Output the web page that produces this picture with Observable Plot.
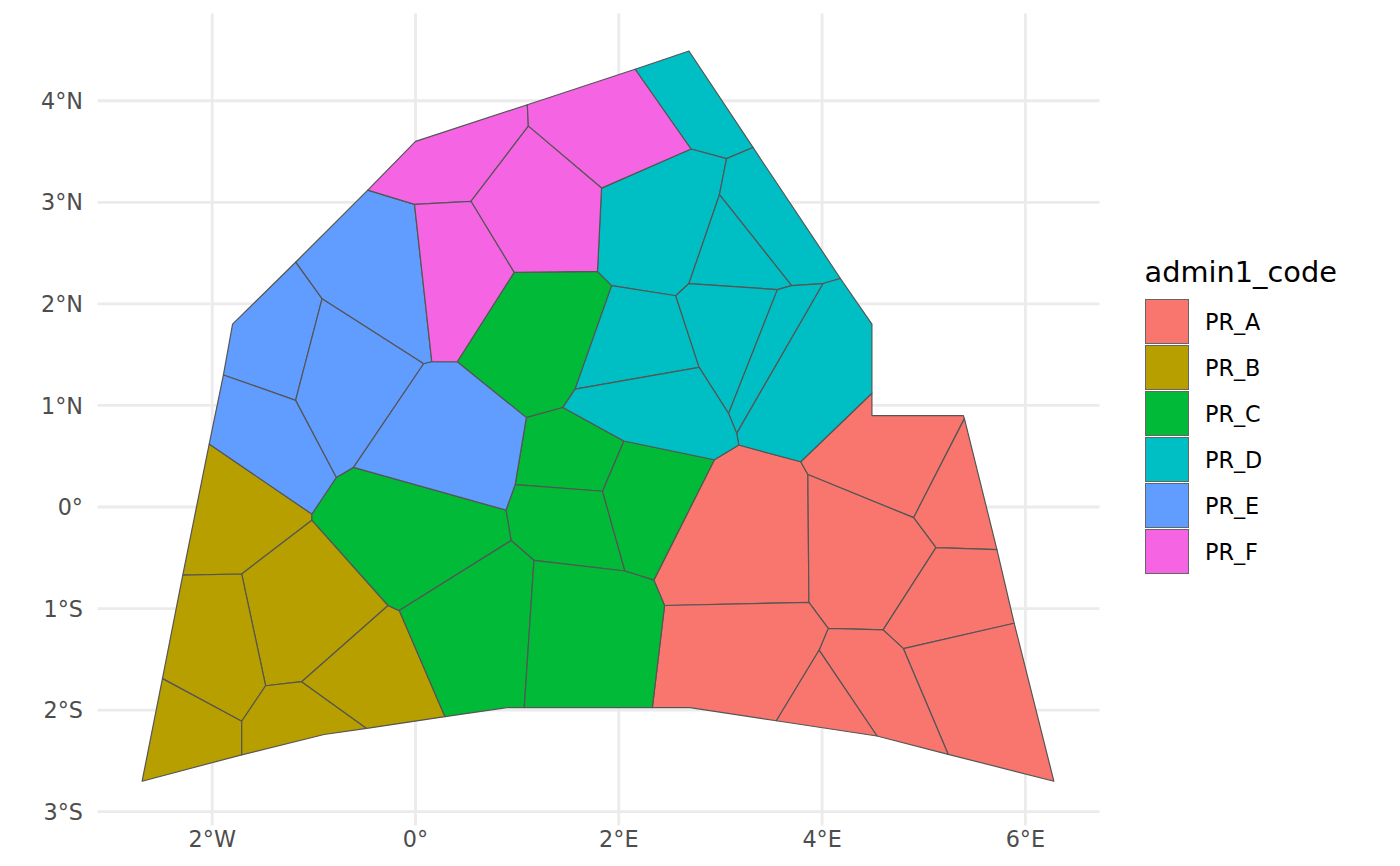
<!DOCTYPE html>
<html>
<head>
<meta charset="utf-8">
<script src="https://cdn.jsdelivr.net/npm/d3@7"></script>
<script src="https://cdn.jsdelivr.net/npm/@observablehq/plot@0.6"></script>
<style>
html,body{margin:0;padding:0;background:#fff;}
#wrap{position:relative;width:1400px;height:866px;font-family:"DejaVu Sans",sans-serif;overflow:hidden;}
#legend{position:absolute;left:1144.5px;top:254px;color:#000;}
#legend .t{font-size:28.8px;line-height:34px;height:43px;padding-top:1px;white-space:nowrap;}
#legend .r{display:flex;align-items:center;height:46.07px;}
#legend .s{width:44.5px;height:45px;box-sizing:border-box;border:1px solid #666;margin-right:16px;}
#legend .l{font-size:22.3px;position:relative;top:1px;}
</style>
</head>
<body>
<div id="wrap"></div>
<script>
const codes = ["PR_A","PR_B","PR_C","PR_D","PR_E","PR_F"];
const palette = ["#F8766D","#B79F00","#00BA38","#00BFC4","#619CFF","#F564E3"];

const lonTicks = [-2,0,2,4,6];
const latTicks = [-3,-2,-1,0,1,2,3,4];

const vertexNames = ["Z","Y","AA","AB","AF","AG","AH","BA","BB","BC","BD","BE","BF","BG","BH","BI","BJ","BK","BL","BM","BN","BO","TP","BP","BQ","T0","C","B","A","L","M","U","W",
 "J","D","E","F","G","H","I","K","N","N2","O","P","Q","R","S","T","V","X","AC","AD","AE","AI","CA","CB","CC","CD","CE","CF","CG","CH","CJ","CK","CL","CM","CN","CO","CP","CQ","CR","CS","CT","CU","CV","CW","CX","CY","CZ","DA","DB","DC","DD","DE","DF","DG","DH","DI"];
const vertexLon = [-2.69,-1.71,-0.90,-0.48,0.29,0.90,1.07,2.33,2.70,3.55,4.54,5.24,6.28,5.89,5.72,5.40,5.39,4.49,4.49,4.49,4.18,3.32,2.69,2.16,1.10,0.00,-0.47,-1.18,-1.80,-1.89,-2.03,-2.29,-2.49,
 -0.92,-0.01,0.545,0.97,0.41,0.16,0.08,-1.18,-1.02,-1.02,-0.78,-0.61,0.89,0.98,1.09,-1.71,-1.475,-1.71,-1.12,-0.27,-0.16,0.94,1.165,2.06,2.345,2.45,1.84,2.05,1.45,1.57,1.79,1.93,2.56,2.69,3.56,3.70,4.01,2.99,3.06,2.71,1.83,1.11,2.79,3.08,3.16,3.18,2.94,3.79,3.86,3.87,4.06,3.97,4.60,4.80,5.12,4.90];
const vertexLat = [-2.70,-2.44,-2.24,-2.18,-2.065,-1.975,-1.975,-1.975,-1.975,-2.105,-2.255,-2.435,-2.70,-1.145,-0.42,0.87,0.90,0.90,1.12,1.80,2.25,3.54,4.49,4.31,3.96,3.60,3.12,2.41,1.80,1.30,0.62,-0.67,-1.69,
 2.05,2.98,3.01,2.31,1.43,1.43,1.41,1.05,-0.07,-0.13,0.29,0.39,-0.03,0.22,0.88,-0.66,-1.76,-2.11,-1.72,-0.97,-1.02,-0.33,-0.525,-0.63,-0.72,-0.97,0.155,0.65,0.98,1.16,2.32,2.18,2.08,2.20,2.14,2.18,2.20,3.075,3.43,3.525,3.14,3.75,1.375,0.92,0.725,0.61,0.465,0.445,0.32,-0.94,-1.195,-1.41,-1.21,-1.395,-0.40,-0.105];

const cellsA = ["CZ CY DA DB DC CD CC","DA BL BK BJ BI DI DB","BI BH DH DI","DB DI DH DF DD DC","DH BH BG DG DF","DG BG BF BE","DD DF DG BE BD DE","DC DD DE BC BB BA CD","DE BD BC"];
const cellsB = ["M N N2 T U","N2 AD AC V T","U T V X W","W X Y Z","X V AC AB AA Y","AC AD AE AF AB"];
const cellsC = ["F CJ CK CH CG S G","S CG CF CE R","R CE CB CA AI Q","CF CZ CC CB CE","N O P Q AI AE AD N2","AE AI CA AH AG AF","CA CB CC CD BA AH"];
const cellsD = ["BP TP BO CR CS","CS CR CQ CM CL CK CJ CT","CR BO BN CP CO CQ","CQ CO CN CM","CK CL CV CH","CL CM CN CW CV","CN CO CP CX CW","CP BN BM BL DA CY CX","CH CV CW CX CY CZ CF CG"];
const cellsE = ["C D H I J B","B J K L A","J I P O K","L K O N M","I H G S R Q P"];
const cellsF = ["C T0 BQ CU E D","BQ BP CS CT CU","CU CT CJ F E","D E F G H"];

const rows = [];
[cellsA,cellsB,cellsC,cellsD,cellsE,cellsF].forEach((cells,ci)=>{
  cells.forEach((c,k)=>{
    const ids = c.split(" ");
    ids.concat(ids[0]).forEach(n=>{
      const i = vertexNames.indexOf(n);
      rows.push({id:codes[ci]+k, code:codes[ci], lon:vertexLon[i], lat:vertexLat[i]});
    });
  });
});

const lonLabel = d => d===0 ? "0°" : Math.abs(d)+"°"+(d<0?"W":"E");
const latLabel = d => d===0 ? "0°" : Math.abs(d)+"°"+(d<0?"S":"N");

const plot = Plot.plot({
  width:1110, height:866,
  marginLeft:97.5, marginRight:10.5, marginTop:13.5, marginBottom:40.5,
  style:{fontFamily:"'DejaVu Sans',sans-serif", fontSize:"22.3px", color:"#4d4d4d", background:"#fff"},
  x:{domain:[-3.124,6.734]},
  y:{domain:[-3.141,4.854]},
  color:{domain:codes, range:palette},
  marks:[
    Plot.gridX(lonTicks,{stroke:"#ebebeb",strokeWidth:2.8,strokeOpacity:1}),
    Plot.gridY(latTicks,{stroke:"#ebebeb",strokeWidth:2.8,strokeOpacity:1}),
    Plot.line(rows,{x:"lon",y:"lat",z:"id",fill:"code",stroke:"#555555",strokeWidth:1.2,strokeLinejoin:"round"}),
    Plot.axisX(lonTicks,{tickSize:0,tickPadding:5,tickFormat:lonLabel,label:null,fontSize:22.3,fill:"#4d4d4d"}),
    Plot.axisY(latTicks,{tickSize:0,tickPadding:15,dy:1,tickFormat:latLabel,label:null,fontSize:22.3,fill:"#4d4d4d"})
  ]
});
const wrap = document.getElementById("wrap");
wrap.appendChild(plot);
const lg = document.createElement("div");
lg.id="legend";
lg.innerHTML = `<div class="t">admin1_code</div>` + codes.map((c,i)=>`<div class="r"><div class="s" style="background:${palette[i]}"></div><div class="l">${c}</div></div>`).join("");
wrap.appendChild(lg);
</script>
</body>
</html>
